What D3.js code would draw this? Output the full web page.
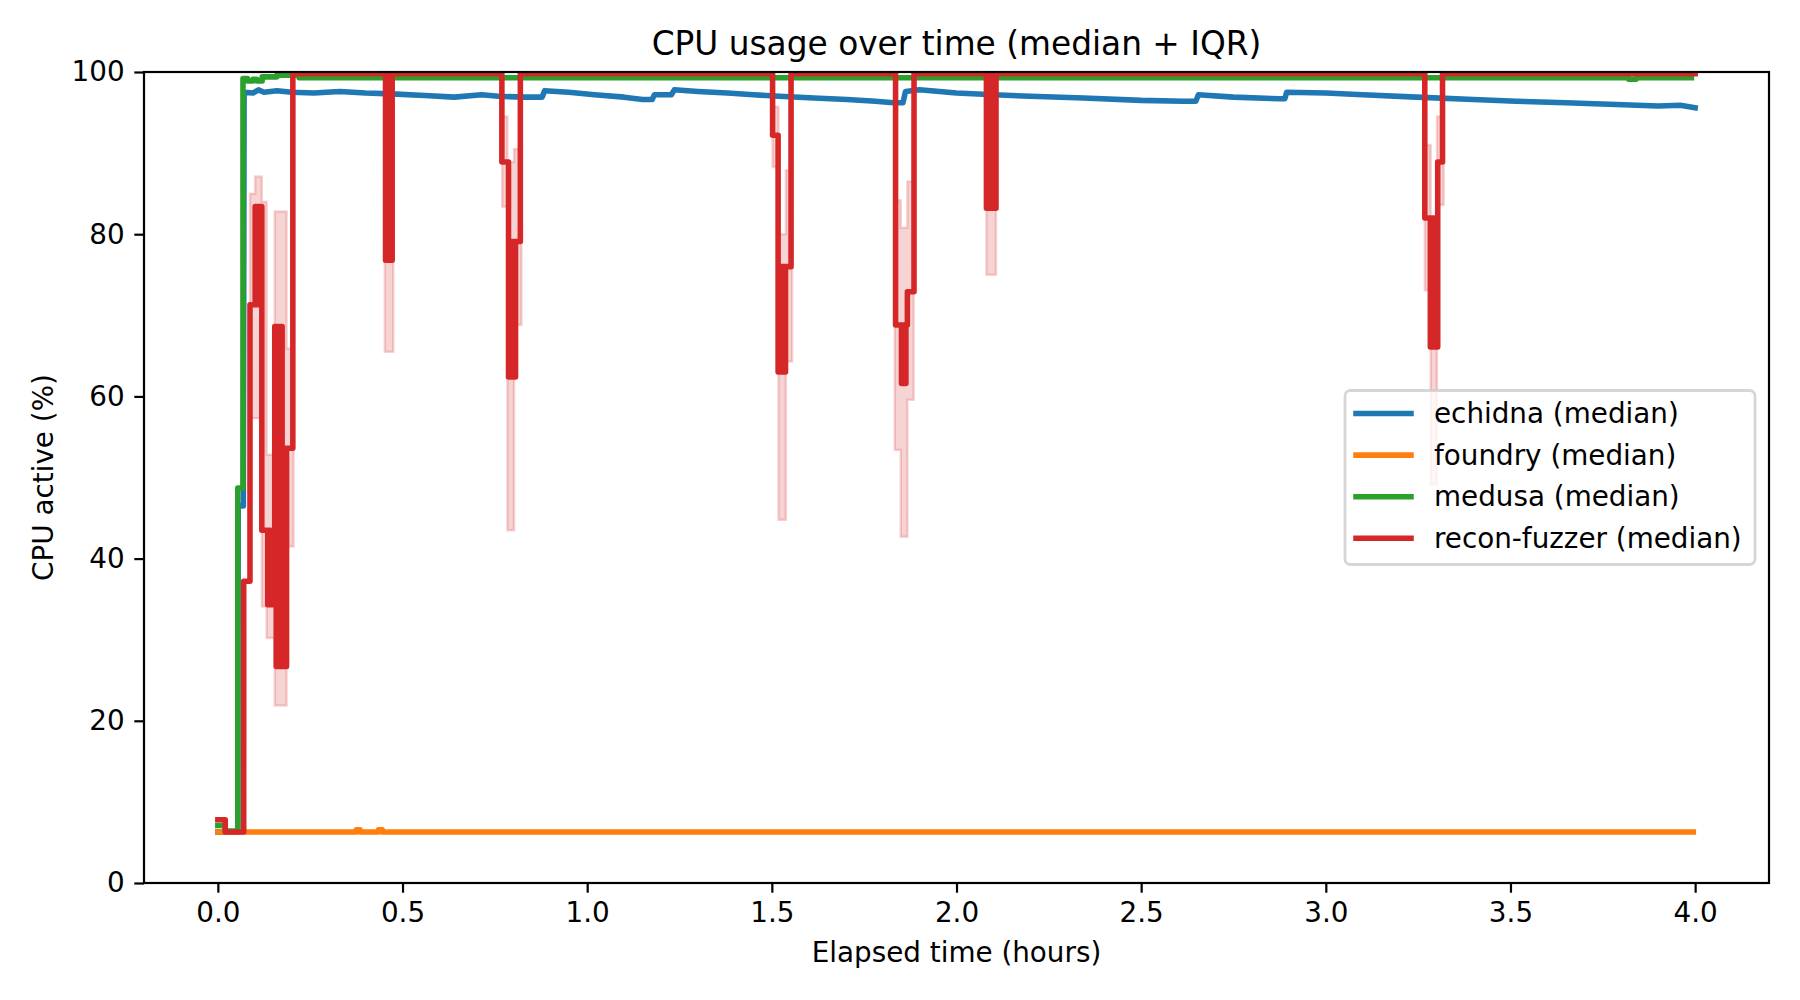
<!DOCTYPE html>
<html>
<head>
<meta charset="utf-8">
<script src="https://cdn.jsdelivr.net/npm/d3@7"></script>
<style>
  body { margin: 0; background: #fff; }
  svg { display: block; font-family: "DejaVu Sans", sans-serif; }
</style>
</head>
<body>
<div id="chart"></div>
<script>
// series names / colours (tab10)
const seriesNames = ["echidna", "foundry", "medusa", "recon-fuzzer"];
const seriesColors = ["#1f77b4", "#ff7f0e", "#2ca02c", "#d62728"];

// median CPU active (%) per elapsed hour
const echidnaMedian = [
  [0.000, 6.3], [0.054, 6.3], [0.055, 46.5], [0.069, 46.5], [0.071, 97.5], [0.095, 97.4],
  [0.110, 97.8], [0.125, 97.5], [0.160, 97.7], [0.200, 97.5], [0.260, 97.4], [0.330, 97.6],
  [0.400, 97.4], [0.470, 97.3], [0.560, 97.1], [0.640, 96.9], [0.714, 97.2], [0.760, 97.0],
  [0.830, 96.9], [0.878, 96.9], [0.885, 97.7], [0.950, 97.5], [1.020, 97.2], [1.100, 96.9],
  [1.150, 96.6], [1.176, 96.6], [1.182, 97.2], [1.228, 97.2], [1.236, 97.8], [1.300, 97.6],
  [1.380, 97.4], [1.450, 97.2], [1.520, 97.0], [1.614, 96.8], [1.704, 96.6], [1.780, 96.4],
  [1.830, 96.2], [1.855, 96.2], [1.862, 97.6], [1.900, 97.8], [2.000, 97.4], [2.100, 97.2],
  [2.200, 97.0], [2.344, 96.8], [2.500, 96.5], [2.614, 96.4], [2.648, 96.4], [2.655, 97.2],
  [2.750, 96.9], [2.876, 96.7], [2.889, 96.7], [2.894, 97.5], [3.000, 97.4], [3.100, 97.2],
  [3.245, 96.9], [3.400, 96.6], [3.515, 96.4], [3.650, 96.2], [3.786, 96.0], [3.900, 95.8],
  [3.960, 95.9], [4.000, 95.6]
];

const foundryMedian = [
  [0.000, 6.3], [0.375, 6.55], [0.385, 6.3], [0.435, 6.55], [0.445, 6.3], [3.995, 6.3]
];

const medusaMedian = [
  [0.000, 7.1], [0.020, 6.4], [0.054, 48.7], [0.068, 99.2], [0.080, 98.9], [0.095, 99.1],
  [0.105, 98.9], [0.120, 99.4], [0.160, 99.6], [0.220, 99.3], [3.820, 99.1], [3.840, 99.3],
  [3.990, 99.3]
];

const reconMedian = [
  [0.000, 7.8], [0.020, 6.3], [0.070, 37.2], [0.087, 71.3],
  [0.101, 83.4], [0.105, 71.3], [0.108, 83.4], [0.112, 71.3], [0.115, 83.4], [0.119, 43.5],
  [0.135, 34.3], [0.139, 43.5], [0.143, 34.3], [0.147, 43.5], [0.151, 34.3],
  [0.154, 68.6], [0.158, 26.7], [0.162, 68.6], [0.166, 26.7], [0.170, 68.6], [0.174, 26.7],
  [0.178, 53.6], [0.182, 26.7], [0.186, 53.6], [0.203, 99.8],
  [0.454, 76.8], [0.458, 99.8], [0.461, 76.8], [0.465, 99.8], [0.468, 76.8], [0.472, 99.8],
  [0.769, 88.9], [0.787, 62.4], [0.791, 79.1], [0.795, 62.4], [0.799, 79.1], [0.803, 62.4],
  [0.806, 79.1], [0.819, 99.8],
  [1.502, 92.2], [1.517, 63.0], [1.521, 76.0], [1.525, 63.0], [1.529, 76.0], [1.533, 63.0],
  [1.537, 76.0], [1.552, 99.8],
  [1.835, 68.8], [1.851, 61.6], [1.855, 68.8], [1.859, 61.6], [1.863, 68.8], [1.867, 72.9],
  [1.885, 99.8],
  [2.081, 83.2], [2.085, 99.8], [2.089, 83.2], [2.093, 99.8], [2.097, 83.2], [2.101, 99.8],
  [2.104, 83.2], [2.107, 99.8],
  [3.268, 82.0], [3.283, 66.1], [3.287, 82.0], [3.291, 66.1], [3.295, 82.0], [3.299, 66.1],
  [3.303, 88.9], [3.316, 99.8],
  [4.000, 99.8]
];

// recon-fuzzer IQR band: [hour, q1, q3]
const reconIQR = [
  [0.000, 7.8, 7.8], [0.020, 6.3, 6.3], [0.070, 37.2, 37.2], [0.087, 57.3, 85.0],
  [0.101, 57.3, 87.1], [0.119, 34.1, 84.0], [0.132, 30.2, 52.8], [0.154, 21.9, 82.8],
  [0.186, 41.5, 65.9], [0.205, 99.8, 99.8],
  [0.452, 65.5, 99.8], [0.475, 99.8, 99.8],
  [0.770, 83.4, 94.5], [0.784, 43.5, 88.9], [0.802, 68.8, 90.5], [0.822, 99.8, 99.8],
  [1.502, 88.3, 95.7], [1.518, 44.8, 80.0], [1.538, 64.3, 87.9], [1.555, 99.8, 99.8],
  [1.833, 53.4, 84.2], [1.849, 42.7, 80.8], [1.867, 59.6, 86.5], [1.884, 99.8, 99.8],
  [2.081, 75.0, 99.8], [2.107, 99.8, 99.8],
  [3.268, 73.1, 91.0], [3.284, 49.1, 82.0], [3.301, 83.6, 94.5], [3.319, 99.8, 99.8],
  [4.000, 99.8, 99.8]
];

const xTicks = [0, 0.5, 1, 1.5, 2, 2.5, 3, 3.5, 4];
const yTicks = [0, 20, 40, 60, 80, 100];

const chartTitle = "CPU usage over time (median + IQR)";
const xLabel = "Elapsed time (hours)";
const yLabel = "CPU active (%)";

const width = 1800, height = 1000;
const margin = { top: 72, right: 31, bottom: 117, left: 144 };
const fontSize = 27.8, titleSize = 32.8, lineW = 5.56;

const medians = [echidnaMedian, foundryMedian, medusaMedian, reconMedian];
// echidna is sampled densely and reads as a smooth trace; others are step plots
const curves = [d3.curveLinear, d3.curveStepAfter, d3.curveStepAfter, d3.curveStepAfter];

const xMax = d3.max(medians.flatMap(s => s.map(d => d[0])));
const xPad = xMax * 0.05;

const x = d3.scaleLinear()
    .domain([-xPad, xMax + xPad])
    .range([margin.left, width - margin.right]);
const y = d3.scaleLinear()
    .domain([0, 100])
    .range([height - margin.bottom, margin.top]);

const svg = d3.select("#chart")
    .append("svg")
    .attr("width", width)
    .attr("height", height);

svg.append("rect").attr("width", width).attr("height", height).attr("fill", "#fff");

svg.append("clipPath").attr("id", "plot-clip")
    .append("rect")
    .attr("x", margin.left).attr("y", margin.top)
    .attr("width", width - margin.left - margin.right)
    .attr("height", height - margin.top - margin.bottom);

const plot = svg.append("g").attr("clip-path", "url(#plot-clip)");

const band = d3.area()
    .x(d => x(d[0]))
    .y0(d => y(d[1]))
    .y1(d => y(d[2]))
    .curve(d3.curveStepAfter);

medians.forEach((series, i) => {
    if (i === 3) {
        plot.append("path")
            .datum(reconIQR)
            .attr("d", band)
            .attr("fill", "rgba(214,39,40,0.2)")
            .attr("stroke", "rgba(214,39,40,0.2)")
            .attr("stroke-width", 2.5);
    }
    const line = d3.line()
        .x(d => x(d[0]))
        .y(d => y(d[1]))
        .curve(curves[i]);
    plot.append("path")
        .datum(series)
        .attr("d", line)
        .attr("fill", "none")
        .attr("stroke", seriesColors[i])
        .attr("stroke-width", lineW)
        .attr("stroke-linejoin", "round")
        .attr("stroke-linecap", "square");
});

// axes
const xAxis = svg.append("g")
    .attr("transform", `translate(0,${height - margin.bottom})`)
    .call(d3.axisBottom(x).tickValues(xTicks).tickFormat(d3.format(".1f")).tickSize(9.7).tickPadding(9.7));
const yAxis = svg.append("g")
    .attr("transform", `translate(${margin.left},0)`)
    .call(d3.axisLeft(y).tickValues(yTicks).tickFormat(d3.format("d")).tickSize(9.7).tickPadding(9.7));

[xAxis, yAxis].forEach(ax => {
    ax.select(".domain").remove();
    ax.selectAll(".tick line").attr("stroke", "#000").attr("stroke-width", 2.2);
    ax.selectAll(".tick text")
        .attr("fill", "#000")
        .attr("font-size", fontSize)
        .attr("font-family", "DejaVu Sans");
});

// spines
svg.append("rect")
    .attr("x", margin.left).attr("y", margin.top)
    .attr("width", width - margin.left - margin.right)
    .attr("height", height - margin.top - margin.bottom)
    .attr("fill", "none")
    .attr("stroke", "#000")
    .attr("stroke-width", 2.2);

const plotCx = (margin.left + width - margin.right) / 2;
const plotCy = (margin.top + height - margin.bottom) / 2;

svg.append("text")
    .attr("x", plotCx).attr("y", margin.top - 17)
    .attr("text-anchor", "middle")
    .attr("font-size", titleSize)
    .text(chartTitle);

svg.append("text")
    .attr("x", plotCx).attr("y", 962)
    .attr("text-anchor", "middle")
    .attr("font-size", fontSize)
    .text(xLabel);

svg.append("text")
    .attr("transform", `translate(53,${plotCy}) rotate(-90)`)
    .attr("text-anchor", "middle")
    .attr("font-size", fontSize)
    .text(yLabel);

// legend (center right)
const legW = 410, legH = 174;
const legX = width - margin.right - 14 - legW;
const legY = plotCy - legH / 2;
const legend = svg.append("g").attr("transform", `translate(${legX},${legY})`);

legend.append("rect")
    .attr("x", 0).attr("y", 0)
    .attr("width", legW).attr("height", legH)
    .attr("rx", 5.5)
    .attr("fill", "rgba(255,255,255,0.8)")
    .attr("stroke", "rgba(204,204,204,0.8)")
    .attr("stroke-width", 2.8);

seriesNames.forEach((name, i) => {
    const cy = 23 + i * 41.6;
    legend.append("line")
        .attr("x1", 11).attr("x2", 66)
        .attr("y1", cy).attr("y2", cy)
        .attr("stroke", seriesColors[i])
        .attr("stroke-width", lineW)
        .attr("stroke-linecap", "square");
    legend.append("text")
        .attr("x", 89).attr("y", cy + 9.5)
        .attr("font-size", fontSize)
        .text(`${name} (median)`);
});
</script>
</body>
</html>
